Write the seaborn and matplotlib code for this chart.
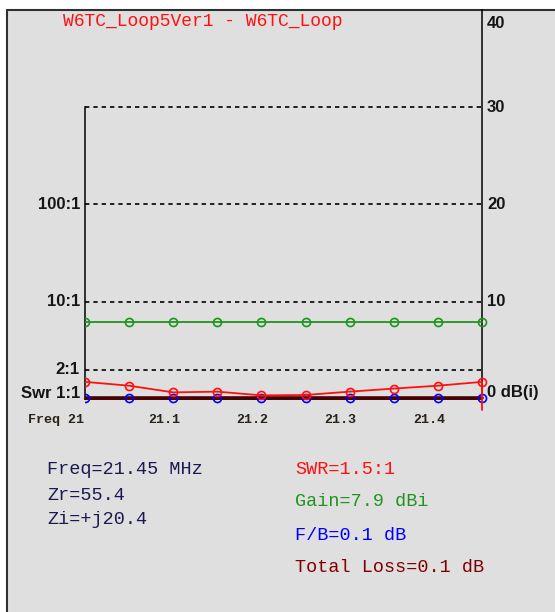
import numpy as np
import pandas as pd
import matplotlib
matplotlib.use("Agg")
import matplotlib.pyplot as plt
import matplotlib.transforms as mtransforms
from matplotlib.patches import Rectangle
from matplotlib.lines import Line2D
import seaborn as sns

# ---------------- data ----------------
freq = [21.00, 21.05, 21.10, 21.15, 21.20, 21.25, 21.30, 21.35, 21.40, 21.45]
swr = [1.50, 1.37, 1.17, 1.19, 1.09, 1.10, 1.19, 1.28, 1.37, 1.50]
gain_dbi = [7.9, 7.9, 7.9, 7.9, 7.9, 7.9, 7.9, 7.9, 7.9, 7.9]
fb_db = [0.1, 0.1, 0.1, 0.1, 0.1, 0.1, 0.1, 0.1, 0.1, 0.1]
loss_db = [0.1, 0.1, 0.1, 0.1, 0.1, 0.1, 0.1, 0.1, 0.1, 0.1]

gain_ticks = [40, 30, 20, 10, 0]
gain_tick_labels = ["40", "30", "20", "10", "0 dB(i)"]
swr_ticks = [100, 10, 2, 1]
swr_tick_labels = ["100:1", "10:1", "2:1", "Swr 1:1"]
freq_ticks = [21.0, 21.1, 21.2, 21.3, 21.4]
freq_tick_labels = ["Freq 21", "21.1", "21.2", "21.3", "21.4"]

title = "W6TC_Loop5Ver1 - W6TC_Loop"
info_left = ["Freq=21.45 MHz", "Zr=55.4", "Zi=+j20.4"]
info_right = ["SWR=1.5:1", "Gain=7.9 dBi", "F/B=0.1 dB", "Total Loss=0.1 dB"]

# ---------------- style ----------------
sns.set_style("white")
plt.rcParams["font.family"] = ["Liberation Sans", "DejaVu Sans"]

RED = "#FF1010"
GREEN = "#1F951F"
BLUE = "#0000FF"
DARKRED = "#800000"
NAVY = "#1A1A50"
BG = "#DFDFDF"

W, H = 555, 612
fig = plt.figure(figsize=(W / 100, H / 100), dpi=100)
fig.patch.set_facecolor("white")


def fx(x):
    return x / W


def fy(y):
    return 1 - y / H


# panel background and frame
fig.patches.append(Rectangle((fx(7), 0), 1 - fx(7), fy(10), transform=fig.transFigure,
                             facecolor=BG, edgecolor="none", zorder=-5))
fig.add_artist(Line2D([fx(7), fx(7)], [0, fy(10)], color="#303030", lw=1.5, zorder=-4))
fig.add_artist(Line2D([fx(7), 1], [fy(10), fy(10)], color="#303030", lw=1.5, zorder=-4))

ax = fig.add_axes([fx(85), fy(399), fx(482) - fx(85), fy(10) - fy(399)])
ax.set_zorder(2)
ax.set_facecolor("none")

df = pd.DataFrame({
    "freq": freq,
    "swr_db": 10 * np.log10(np.array(swr)),
    "gain": gain_dbi,
    "fb": fb_db,
    "loss": loss_db,
})

# dashed reference lines
grid_levels = gain_ticks[1:4] + [10 * np.log10(swr_ticks[2])]
for lv in grid_levels:
    ax.axhline(lv, color="black", lw=1.2, ls=(0, (2.6, 2.4)), zorder=1)

mk = dict(marker="o", markersize=5.8, markerfacecolor="none", markeredgewidth=1.2)

sns.lineplot(data=df, x="freq", y="fb", color=BLUE, lw=1.0, ax=ax, zorder=2)
sns.lineplot(data=df, x="freq", y="loss", color="#4A0000", lw=2.6, ax=ax, zorder=3)
sns.lineplot(data=df, x="freq", y="fb", color=BLUE, lw=0, markeredgecolor=BLUE,
             ax=ax, zorder=4, **mk)
sns.lineplot(data=df, x="freq", y="gain", color=GREEN, lw=1.3, markeredgecolor=GREEN,
             ax=ax, zorder=4, **mk)
sns.lineplot(data=df, x="freq", y="swr_db", color=RED, lw=1.3, markeredgecolor=RED,
             ax=ax, zorder=5, **mk)

ax.set_xlim(freq[0], freq[-1])
ax.set_ylim(0, 40)

# clip: hide left half of first markers, allow last markers to overhang right
clip = Rectangle((0, -0.05), 1.1, 1.1, transform=ax.transAxes)
for ln in ax.lines:
    ln.set_clip_on(True)
    ln.set_clip_path(clip)

# red cursor at the last frequency
ax.axvline(freq[-1], ymin=-0.028, ymax=df["swr_db"].iloc[-1] / 40, color=RED, lw=1.3,
           clip_on=False, zorder=6)

if ax.get_legend() is not None:
    ax.get_legend().remove()
ax.set_xlabel("")
ax.set_ylabel("")
ax.set_xticks([])
ax.set_yticks([])

for side in ["left", "right", "bottom"]:
    ax.spines[side].set_color("black")
    ax.spines[side].set_linewidth(1.1)
ax.spines["top"].set_visible(False)
ax.spines["left"].set_bounds(0, gain_ticks[1])

# right (gain) labels
blend = mtransforms.blended_transform_factory(ax.transAxes, ax.transData)
right_dy = {0: -14, 4: 6}
for i, (v, lab) in enumerate(zip(gain_ticks, gain_tick_labels)):
    tr = mtransforms.offset_copy(blend, fig=fig, x=5, y=right_dy.get(i, 0), units="dots")
    ax.text(1, v, lab, transform=tr, ha="left", va="center", fontsize=12,
            fontweight="bold", color="#151515", clip_on=False)

# left (SWR) labels
for i, (v, lab) in enumerate(zip(swr_ticks, swr_tick_labels)):
    dy = 6 if v == 1 else 0
    tr = mtransforms.offset_copy(blend, fig=fig, x=-5, y=dy, units="dots")
    ax.text(0, 10 * np.log10(v), lab, transform=tr, ha="right", va="center", fontsize=12,
            fontweight="bold", color="#151515", clip_on=False)

# frequency labels
blend_x = mtransforms.blended_transform_factory(ax.transData, ax.transAxes)
for i, (v, lab) in enumerate(zip(freq_ticks, freq_tick_labels)):
    if i == 0:
        tr = mtransforms.offset_copy(blend_x, fig=fig, x=-1, y=-21, units="dots")
        ha = "right"
    else:
        tr = mtransforms.offset_copy(blend_x, fig=fig, x=-9, y=-21, units="dots")
        ha = "center"
    ax.text(v, 0, lab, transform=tr, ha=ha, va="center", fontsize=9.6,
            fontweight="bold", family="Liberation Mono", color="#2A2418", clip_on=False)

# title
fig.text(fx(63), fy(21), title, color=RED, fontsize=13, family="Liberation Mono",
         ha="left", va="center")

# info block
for lab, y in zip(info_left, [470, 495, 520]):
    fig.text(fx(47), fy(y), lab, color=NAVY, fontsize=13.3, family="Liberation Mono",
             ha="left", va="center")
for lab, y, c in zip(info_right, [470, 502, 535, 567], [RED, GREEN, BLUE, DARKRED]):
    fig.text(fx(295), fy(y), lab, color=c, fontsize=13.3, family="Liberation Mono",
             ha="left", va="center")

fig.savefig("out.png", dpi=100, facecolor=fig.get_facecolor())
